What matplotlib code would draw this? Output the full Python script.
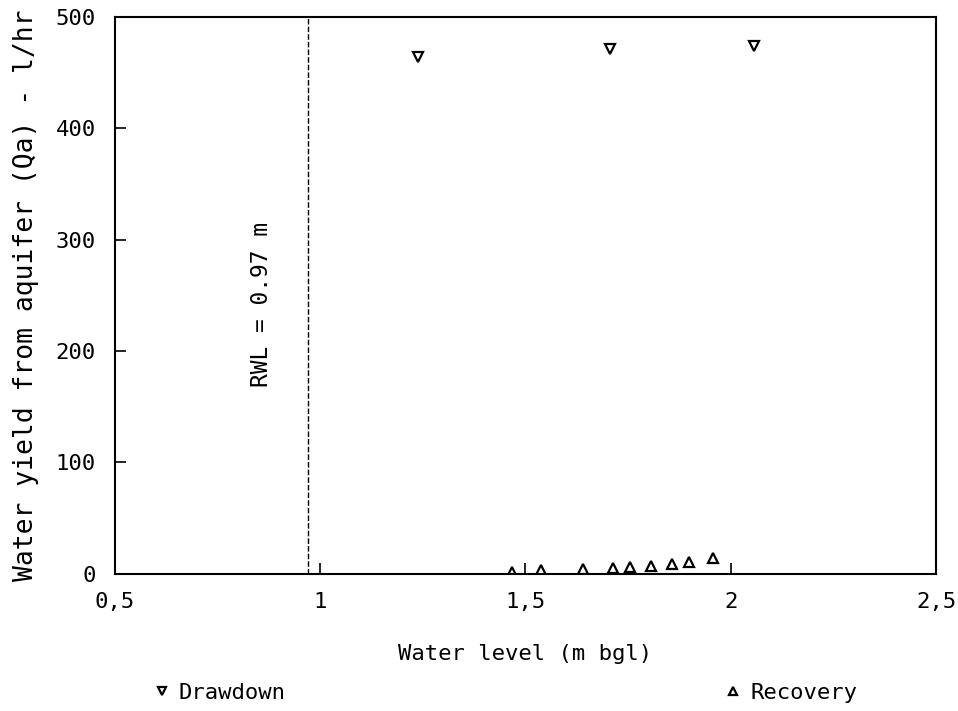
import matplotlib
matplotlib.use("Agg")
import matplotlib.pyplot as plt
from matplotlib.ticker import FuncFormatter

# Pumping test: water yield from aquifer vs water level
drawdown_level = [1.239, 1.705, 2.056]
drawdown_yield = [464, 471, 474]

recovery_level = [1.466, 1.539, 1.641, 1.714, 1.754, 1.805, 1.858, 1.898, 1.958]
recovery_yield = [2, 3, 4, 5, 6, 7, 9, 11, 14]

rwl = 0.97
x_ticks = [0.5, 1.0, 1.5, 2.0, 2.5]
y_ticks = [0, 100, 200, 300, 400, 500]

plt.rcParams["font.family"] = ["DejaVu Sans Mono", "DejaVu Sans"]
plt.rcParams["font.size"] = 16

fig = plt.figure(figsize=(9.58, 7.11), dpi=100)
ax = fig.add_axes([0.120, 0.193, 0.857, 0.783])

ax.plot(drawdown_level, drawdown_yield, linestyle="none", marker="v",
        markersize=7.5, markerfacecolor="white", markeredgecolor="black",
        markeredgewidth=1.6, label="Drawdown")
ax.plot(recovery_level, recovery_yield, linestyle="none", marker="^",
        markersize=7.5, markerfacecolor="white", markeredgecolor="black",
        markeredgewidth=1.6, label="Recovery")

ax.axvline(rwl, color="black", linestyle=(0, (4, 1.5)), linewidth=1.0)
ax.text(0.858, 242, f"RWL = {rwl:.2f} m", rotation=90, ha="center",
        va="center", fontsize=16.5)

ax.set_xlim(0.5, 2.5)
ax.set_ylim(0, 500)
ax.set_xticks(x_ticks)
ax.set_yticks(y_ticks)


def comma_fmt(v, pos):
    s = f"{v:g}"
    return s.replace(".", ",")


ax.xaxis.set_major_formatter(FuncFormatter(comma_fmt))
ax.tick_params(direction="in", length=8, width=1.2, top=False, right=False,
               labelsize=16)
ax.tick_params(axis="x", pad=13)
ax.tick_params(axis="y", pad=14)
for sp in ax.spines.values():
    sp.set_linewidth(1.5)

ax.set_xlabel("Water level (m bgl)", labelpad=23, fontsize=16)
ax.set_ylabel("Water yield from aquifer (Qa) - l/hr", labelpad=12,
              fontsize=19)

fig.legend(loc="lower left", bbox_to_anchor=(0.14, -0.017), ncol=2,
           frameon=False, handlelength=0.7, handletextpad=0.4,
           columnspacing=19.8, markerscale=0.7, fontsize=16)

fig.savefig("out.png", dpi=100)
